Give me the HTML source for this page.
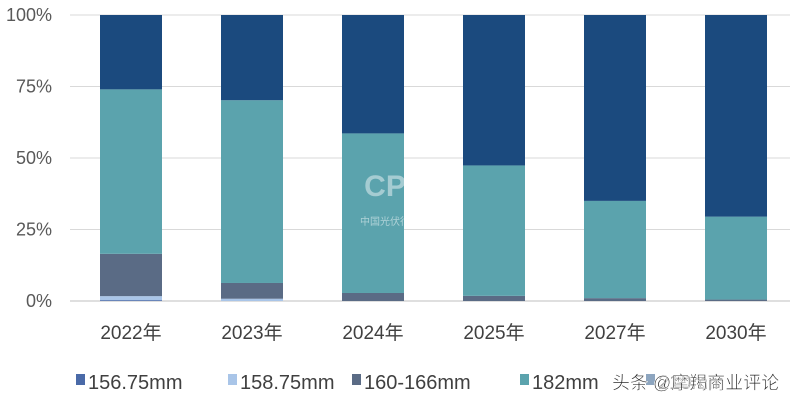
<!DOCTYPE html>
<html><head><meta charset="utf-8"><style>
body{margin:0;background:#fff;width:806px;height:405px;overflow:hidden;font-family:"Liberation Sans","Noto Sans CJK SC",sans-serif}
</style></head><body>
<svg id="chart" width="806" height="405" xmlns="http://www.w3.org/2000/svg"></svg>
<script>
const categories=["2022年","2023年","2024年","2025年","2027年","2030年"];
const seriesNames=["156.75mm","158.75mm","160-166mm","182mm","210mm"];
const s15675=[0.3,0,0,0,0,0];
const s15875=[1.4,0.8,0,0,0,0];
const s160166=[14.8,5.5,2.8,1.8,1.0,0.5];
const s182=[57.5,63.9,55.8,45.6,34.0,29.0];
const s210=[26.0,29.8,41.4,52.6,65.0,70.5];
const yTicks=[0,25,50,75,100];
const colors=["#4a6aa8","#a9c5e8","#5a6b85","#5ba3ad","#1b4a7e"];
const NS="http://www.w3.org/2000/svg";
const svg=document.getElementById('chart');
const y0=301,y1=15,x0=70,x1=790;
function yScale(v){return y0-(y0-y1)*v/100;}
function xScale(i){return 100+i*121;}
const bw=62;
function mk(t,a){const e=document.createElementNS(NS,t);for(const k in a)e.setAttribute(k,a[k]);svg.appendChild(e);return e;}
yTicks.forEach(t=>{
 const l=mk('line',{x1:x0,x2:x1,y1:yScale(t),y2:yScale(t),stroke:t===0?'#bfbfbf':'#d9d9d9','stroke-width':1});
 
 
 const tx=mk('text',{x:52,y:yScale(t)+6,'text-anchor':'end','font-size':18,fill:'#595959'});
 tx.textContent=t+'%';
 
 
});
const all=[s15675,s15875,s160166,s182,s210];
categories.forEach((c,i)=>{
 let acc=0;
 all.forEach((s,j)=>{
  const v=s[i];
  if(v>0){
   const r=mk('rect',{x:xScale(i),y:yScale(acc+v),width:bw,height:yScale(acc)-yScale(acc+v),fill:colors[j]});
   
   
  }
  acc+=v;
 });
 const t=mk('text',{x:xScale(i)+bw/2,y:339,'text-anchor':'middle','font-size':19,fill:'#404040'});
 t.textContent=c;
 
 
});
const lx=[76,228,352,520,646];
seriesNames.forEach((n,j)=>{
 const r=mk('rect',{x:lx[j],y:374,width:9,height:11,fill:colors[j]});
 
 
 const t=mk('text',{x:lx[j]+12,y:389,'font-size':20,fill:'#404040'});
 t.textContent=n;
 
 
});
const wbg=mk('rect',{x:610,y:368,width:194,height:28,fill:'#fff','fill-opacity':0.5});


const w=mk('text',{x:612,y:389,'font-size':18,fill:'#222',stroke:'#fff','stroke-width':0.6});
w.textContent='头条 @摩羯商业评论';


const cp=mk('text',{x:400,y:196,'text-anchor':'middle','font-size':30,'font-weight':'bold',fill:'#ffffff','fill-opacity':0.45});
cp.textContent='CPIA';


const cp2=mk('text',{x:400,y:225,'text-anchor':'middle','font-size':10,fill:'#ffffff','fill-opacity':0.5});
cp2.textContent='中国光伏行业协会';


</script>
</body></html>
